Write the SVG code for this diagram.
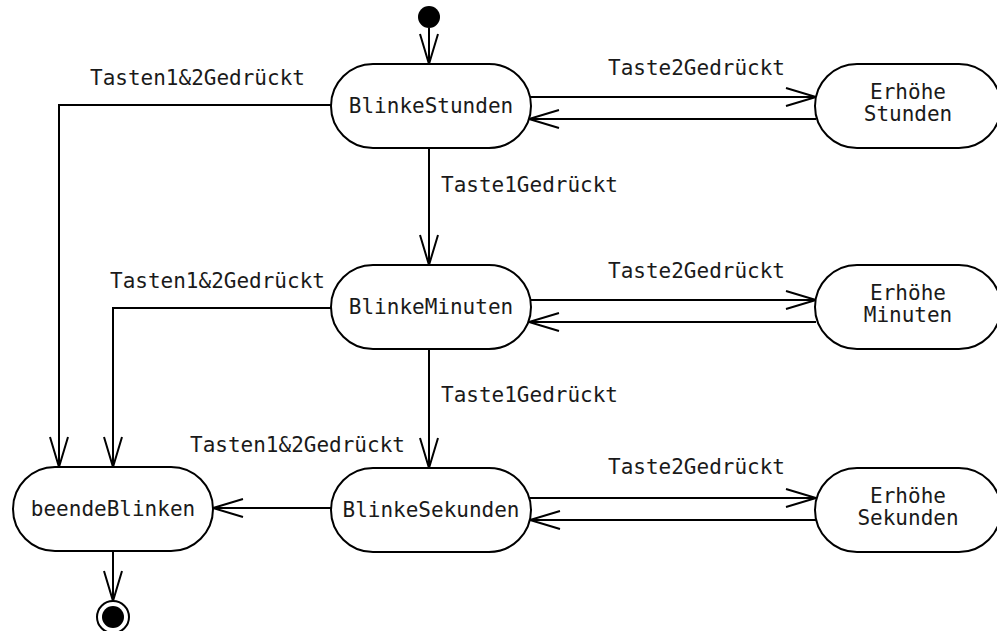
<svg xmlns="http://www.w3.org/2000/svg" width="997" height="631" viewBox="0 0 997 631">
  <style>
    .state { fill: #ffffff; stroke: #000000; stroke-width: 2; }
    .lbl { font-family: "DejaVu Sans Mono", "Liberation Mono", monospace; font-size: 21px; fill: #1a1a1a; }
    .mid { text-anchor: middle; }
    .edge { fill: none; stroke: #000000; stroke-width: 2; marker-end: url(#open); }
  </style>
  <defs>
    <marker id="open" viewBox="0 0 32 20" refX="31" refY="10" markerWidth="32" markerHeight="20" markerUnits="userSpaceOnUse" orient="auto">
      <path d="M1,1 L31,10 L1,19" fill="none" stroke="#000000" stroke-width="2"/>
    </marker>
  </defs>
  <rect width="997" height="631" fill="#ffffff"/>

  <!-- connectors -->
  <g id="connectors">
    <path class="edge" d="M429,28 V64"/>
    <path class="edge" d="M429,148 V265"/>
    <path class="edge" d="M429,349 V468"/>
    <path class="edge" d="M530,97 H816"/>
    <path class="edge" d="M816,119 H529"/>
    <path class="edge" d="M530,300 H816"/>
    <path class="edge" d="M816,322 H529"/>
    <path class="edge" d="M530,498 H816"/>
    <path class="edge" d="M816,520 H530"/>
    <path class="edge" d="M331,105 H59 V467"/>
    <path class="edge" d="M331,308 H113 V467"/>
    <path class="edge" d="M331,508 H213"/>
    <path class="edge" d="M113,551 V601"/>
    <text class="lbl" x="608" y="75">Taste2Gedrückt</text>
    <text class="lbl" x="608" y="278">Taste2Gedrückt</text>
    <text class="lbl" x="608" y="474">Taste2Gedrückt</text>
    <text class="lbl" x="441" y="192">Taste1Gedrückt</text>
    <text class="lbl" x="441" y="402">Taste1Gedrückt</text>
    <text class="lbl" x="90" y="85">Tasten1&amp;2Gedrückt</text>
    <text class="lbl" x="110" y="288">Tasten1&amp;2Gedrückt</text>
    <text class="lbl" x="190" y="452">Tasten1&amp;2Gedrückt</text>
  </g>

  <g id="start">
    <circle cx="429" cy="17" r="11" fill="#000000"/>
  </g>

  <g id="blinkeStunden">
    <rect class="state" x="331" y="64" width="200" height="84" rx="42"/>
    <text class="lbl mid" x="431" y="113">BlinkeStunden</text>
  </g>
  <g id="blinkeMinuten">
    <rect class="state" x="331" y="265" width="200" height="84" rx="42"/>
    <text class="lbl mid" x="431" y="314">BlinkeMinuten</text>
  </g>
  <g id="blinkeSekunden">
    <rect class="state" x="331" y="468" width="200" height="84" rx="42"/>
    <text class="lbl mid" x="431" y="517">BlinkeSekunden</text>
  </g>
  <g id="beendeBlinken">
    <rect class="state" x="13" y="467" width="200" height="84" rx="42"/>
    <text class="lbl mid" x="113" y="516">beendeBlinken</text>
  </g>

  <g id="erhoeheStunden">
    <rect class="state" x="815" y="64" width="186" height="84" rx="42"/>
    <text class="lbl mid" x="908" y="99">Erhöhe</text>
    <text class="lbl mid" x="908" y="121">Stunden</text>
  </g>
  <g id="erhoeheMinuten">
    <rect class="state" x="815" y="265" width="186" height="84" rx="42"/>
    <text class="lbl mid" x="908" y="300">Erhöhe</text>
    <text class="lbl mid" x="908" y="322">Minuten</text>
  </g>
  <g id="erhoeheSekunden">
    <rect class="state" x="815" y="468" width="186" height="84" rx="42"/>
    <text class="lbl mid" x="908" y="503">Erhöhe</text>
    <text class="lbl mid" x="908" y="525">Sekunden</text>
  </g>

  <g id="end">
    <circle cx="113" cy="617" r="16" fill="#ffffff" stroke="#000000" stroke-width="2"/>
    <circle cx="113" cy="617" r="11" fill="#000000"/>
  </g>
</svg>
